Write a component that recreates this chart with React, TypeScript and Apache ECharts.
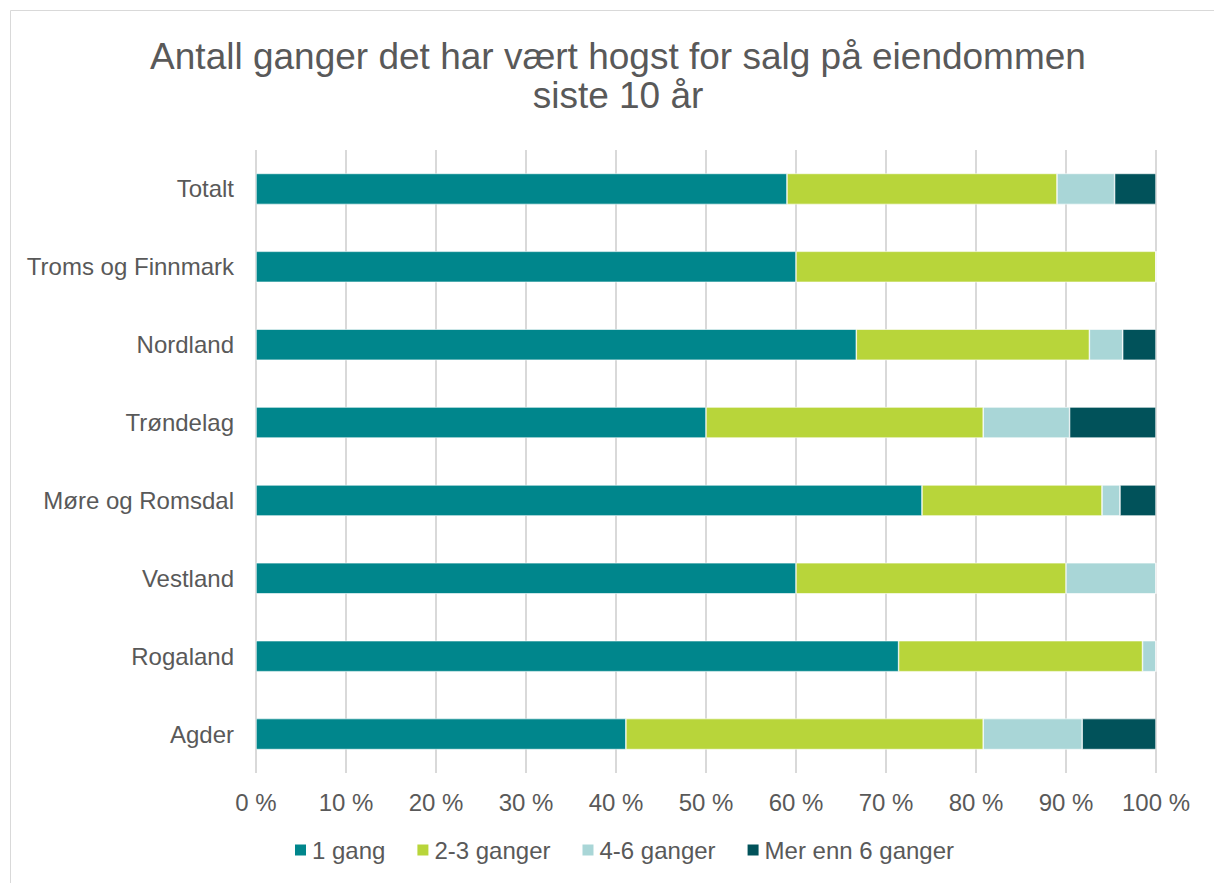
import React, { useEffect, useRef } from "react";
import * as echarts from "echarts";

const categories = [
  "Totalt",
  "Troms og Finnmark",
  "Nordland",
  "Trøndelag",
  "Møre og Romsdal",
  "Vestland",
  "Rogaland",
  "Agder",
];
const seriesNames = ["1 gang", "2-3 ganger", "4-6 ganger", "Mer enn 6 ganger"];
const gang1 = [59.0, 60.0, 66.7, 50.0, 74.0, 60.0, 71.4, 41.1];
const ganger23 = [30.0, 40.0, 25.9, 30.8, 20.0, 30.0, 27.1, 39.7];
const ganger46 = [6.4, 0, 3.7, 9.6, 2.0, 10.0, 1.5, 11.0];
const gangerMer6 = [4.6, 0, 3.7, 9.6, 4.0, 0, 0, 8.2];
const colors = ["#00868C", "#B8D53A", "#A9D6D7", "#01525A"];
const xTicks = [0, 10, 20, 30, 40, 50, 60, 70, 80, 90, 100];

const FONT = "Liberation Sans, Arial, sans-serif";
const TEXT = "#595959";

export default function App() {
  const ref = useRef<HTMLDivElement>(null);
  useEffect(() => {
    if (!ref.current) return;
    const chart = echarts.init(ref.current, undefined, { renderer: "svg" });
    const data = [gang1, ganger23, ganger46, gangerMer6];
    chart.setOption({
      animation: false,
      backgroundColor: "#ffffff",
      textStyle: { fontFamily: FONT },
      title: {
        text: "Antall ganger det har vært hogst for salg på eiendommen\nsiste 10 år",
        left: 613,
        textAlign: "center",
        top: 32,
        textStyle: {
          fontFamily: FONT,
          fontSize: 37,
          fontWeight: "normal",
          color: TEXT,
          lineHeight: 39,
        },
      },
      graphic: [
        {
          type: "rect",
          shape: { x: 10.5, y: 10.5, width: 1210, height: 880 },
          style: { fill: "none", stroke: "#d9d9d9", lineWidth: 1 },
          silent: true,
        },
      ],
      legend: {
        bottom: 16,
        left: 288,
        itemWidth: 13,
        itemHeight: 13,
        itemGap: 30,
        icon: "rect",
        textStyle: { fontFamily: FONT, fontSize: 24, color: TEXT },
        data: seriesNames,
      },
      grid: { left: 256, right: 58, top: 150, bottom: 110 },
      xAxis: {
        type: "value",
        min: 0,
        max: 100,
        interval: 10,
        axisLine: { show: false },
        axisTick: { show: false },
        splitLine: { lineStyle: { color: "#d9d9d9", width: 2 } },
        axisLabel: {
          formatter: (v: number) => (xTicks.includes(v) ? `${v} %` : ""),
          fontFamily: FONT,
          fontSize: 24,
          color: TEXT,
          margin: 17,
        },
      },
      yAxis: {
        type: "category",
        inverse: true,
        data: categories,
        axisLine: { show: false },
        axisTick: { show: false },
        axisLabel: { fontFamily: FONT, fontSize: 24, color: TEXT, margin: 22 },
      },
      series: seriesNames.map((name, i) => ({
        name,
        type: "bar",
        stack: "total",
        barWidth: 31,
        data: data[i],
        itemStyle: { color: colors[i], borderColor: "#ffffff", borderWidth: 0.6 },
      })),
    });
    return () => chart.dispose();
  }, []);
  return (
    <div
      ref={ref}
      style={{ position: "fixed", left: 0, top: 0, width: 1214, height: 883 }}
    />
  );
}
